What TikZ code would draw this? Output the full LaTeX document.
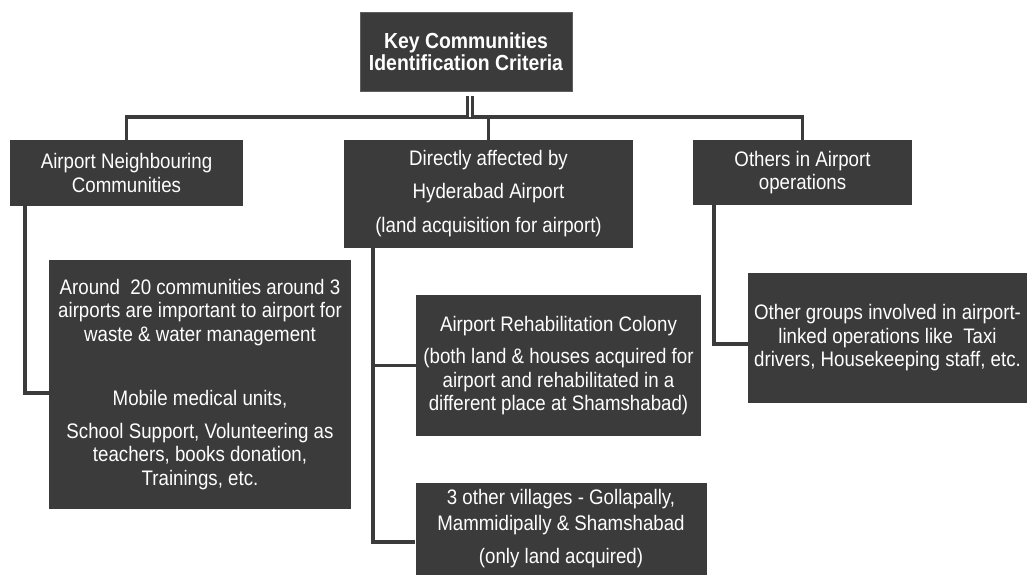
\documentclass[tikz,border=0pt]{standalone}
\usepackage{fontspec}
\setmainfont{Liberation Sans}[FakeStretch=0.89]
\begin{document}
\begin{tikzpicture}[x=1pt,y=-1pt,
  box/.style={fill=boxgray, text=white, inner sep=0pt, align=center,
    font=\fontsize{21}{23.5}\selectfont},
  conn/.style={draw=boxgray, line width=3.5pt},
  dbl/.style={draw=boxgray, line width=2.3pt, double=white, double distance=2.6pt}]
\definecolor{boxgray}{RGB}{59,59,59}
\useasboundingbox (0,0) rectangle (1027,575);
\node[box, draw={rgb,255:red,95;green,95;blue,95}, line width=0.8pt,
  minimum width=212pt, minimum height=79pt,
  font=\bfseries\fontsize{21.8}{22}\selectfont] (top) at (466,51.5)
  {Key Communities\\Identification Criteria};
\node[box, minimum width=233pt, minimum height=66pt] (left1) at (126.5,173)
  {Airport Neighbouring\\Communities};
\node[box, minimum width=289pt, minimum height=108pt] (mid1) at (488.5,194)
  {Directly affected by\\[9pt]Hyderabad Airport\\[11pt](land acquisition for airport)};
\node[box, minimum width=219pt, minimum height=65pt] (right1) at (802.5,172.5)
  {Others in Airport\\operations};
\node[box, minimum width=302pt, minimum height=249pt] (left2) at (200,384.5)
  {Around\ \ 20 communities around 3\\airports are important to airport for\\waste \& water management\\[41pt]Mobile medical units,\\[9pt]School Support, Volunteering as\\teachers, books donation,\\Trainings, etc.};
\node[box, minimum width=285pt, minimum height=141pt] (rehab) at (558.5,365.5)
  {Airport Rehabilitation Colony\\[9pt](both land \& houses acquired for\\airport and rehabilitated in a\\different place at Shamshabad)};
\node[box, minimum width=291pt, minimum height=92pt] (vill) at (561,529)
  {3 other villages - Gollapally,\\[2pt]Mammidipally \& Shamshabad\\[10pt](only land acquired)};
\node[box, minimum width=279pt, minimum height=130pt] (right2) at (887.5,338)
  {Other groups involved in airport-\\linked operations like\ \ Taxi\\drivers, Housekeeping staff, etc.};
% top bus
\coordinate (bus) at (470,117);
\coordinate (dtop) at (470,96);
\draw[conn] (left1.north) |- (bus) -| (right1.north);
\draw[conn] (mid1.north) -- (mid1.north |- bus);
\draw[dbl] (dtop) -- (bus);
% left branch
\draw[conn] ([xshift=15pt]left1.south west) |- ([yshift=-8.5pt]left2.west);
% middle branches
\draw[conn] ([xshift=29pt]mid1.south west) |- ([yshift=-13pt]vill.west);
\draw[conn] ([xshift=29pt]mid1.south west |- rehab.west) -- (rehab.west);
% right branch
\draw[conn] ([xshift=21pt]right1.south west) |- ([yshift=-6pt]right2.west);
\end{tikzpicture}
\end{document}
